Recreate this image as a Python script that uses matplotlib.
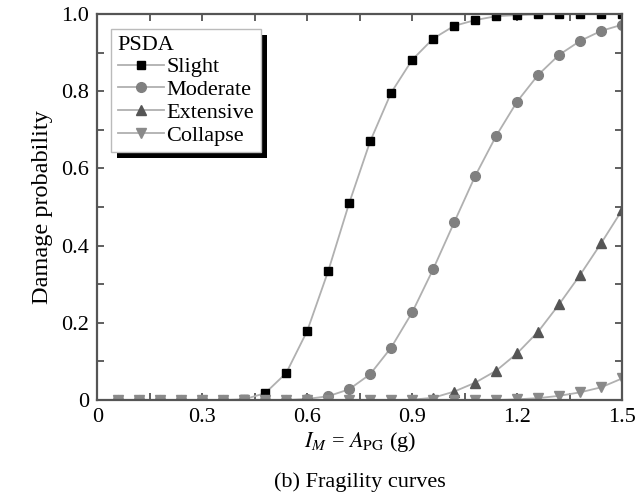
import matplotlib.pyplot as plt
import numpy as np
from matplotlib.patches import Rectangle
from matplotlib.transforms import IdentityTransform
from matplotlib.ticker import MultipleLocator

plt.rcParams['font.family'] = ['Liberation Serif', 'DejaVu Serif']
plt.rcParams['mathtext.fontset'] = 'stix'

# intensity measure (g)
pga = [0.06, 0.12, 0.18, 0.24, 0.30, 0.36, 0.42, 0.48, 0.54, 0.60, 0.66, 0.72, 0.78,
       0.84, 0.90, 0.96, 1.02, 1.08, 1.14, 1.20, 1.26, 1.32, 1.38, 1.44, 1.50]

slight = [0, 0, 0, 0, 0, 0, 0.002, 0.018, 0.07, 0.179, 0.334, 0.51, 0.67,
          0.796, 0.881, 0.936, 0.969, 0.984, 0.994, 0.997, 0.999, 1.0, 1.0, 1.0, 1.0]
moderate = [0, 0, 0, 0, 0, 0, 0, 0, 0, 0.003, 0.01, 0.028, 0.067,
            0.136, 0.227, 0.339, 0.46, 0.58, 0.684, 0.773, 0.842, 0.894, 0.93, 0.956, 0.972]
extensive = [0, 0, 0, 0, 0, 0, 0, 0, 0, 0, 0, 0, 0,
             0, 0.001, 0.006, 0.022, 0.045, 0.076, 0.121, 0.177, 0.248, 0.324, 0.406, 0.492]
collapse = [0, 0, 0, 0, 0, 0, 0, 0, 0, 0, 0, 0, 0,
            0, 0, 0, 0, 0, 0, 0.002, 0.005, 0.011, 0.02, 0.033, 0.056]

fig = plt.figure(figsize=(6.4, 4.97), dpi=100)
ax = fig.add_axes([0.152, 0.195, 0.82, 0.777])

line_c = '#b0b0b0'
ax.plot(pga, slight, color=line_c, lw=1.3, marker='s', ms=6, mfc='black', mec='black', label='Slight')
ax.plot(pga, moderate, color=line_c, lw=1.3, marker='o', ms=7, mfc='#808080', mec='#808080', label='Moderate')
ax.plot(pga, extensive, color=line_c, lw=1.3, marker='^', ms=7, mfc='#555555', mec='#555555', label='Extensive')
ax.plot(pga, collapse, color=line_c, lw=1.3, marker='v', ms=7, mfc='#8a8a8a', mec='#8a8a8a', label='Collapse')

fs = 16
ax.set_xlim(0, 1.5)
ax.set_ylim(0, 1.0)
ax.xaxis.set_minor_locator(MultipleLocator(0.15))
ax.yaxis.set_minor_locator(MultipleLocator(0.1))
ax.set_xticks([0, 0.3, 0.6, 0.9, 1.2, 1.5])
ax.set_xticklabels(['0', '0.3', '0.6', '0.9', '1.2', '1.5'])
ax.set_yticks([0, 0.2, 0.4, 0.6, 0.8, 1.0])
ax.set_yticklabels(['0', '0.2', '0.4', '0.6', '0.8', '1.0'])
ax.tick_params(which='both', direction='in', top=True, right=True, labelsize=fs, color='#444444')
ax.tick_params(which='major', length=5, width=1.2, pad=6)
ax.tick_params(which='minor', length=5, width=1.2)
for s in ax.spines.values():
    s.set_color('#555555')
    s.set_linewidth(1.6)

ax.set_ylabel('Damage probability', fontsize=17.5, labelpad=6)
ax.set_xlabel(r'$I_M$ = $A_{\rm PG}$ (g)', fontsize=fs, labelpad=2)
fig.text(0.562, 0.02, '(b) Fragility curves', ha='center', fontsize=fs)

leg = ax.legend(loc='upper left', bbox_to_anchor=(0.026, 0.961), borderaxespad=0,
                title='PSDA', alignment='left', fontsize=fs, title_fontsize=fs,
                fancybox=False, edgecolor='#bbbbbb', framealpha=1,
                handlelength=2.1, handletextpad=0.1, labelspacing=0.1,
                borderpad=0.3, frameon=True)
leg.get_frame().set_linewidth(1.0)
leg.set_zorder(6)

fig.canvas.draw()
bb = leg.get_window_extent()
shadow = Rectangle((bb.x0 + 6, bb.y0 - 6), bb.width, bb.height,
                   transform=IdentityTransform(), facecolor='black',
                   edgecolor='none', zorder=5, clip_on=False)
ax.add_patch(shadow)

fig.savefig('out.png', dpi=100)
